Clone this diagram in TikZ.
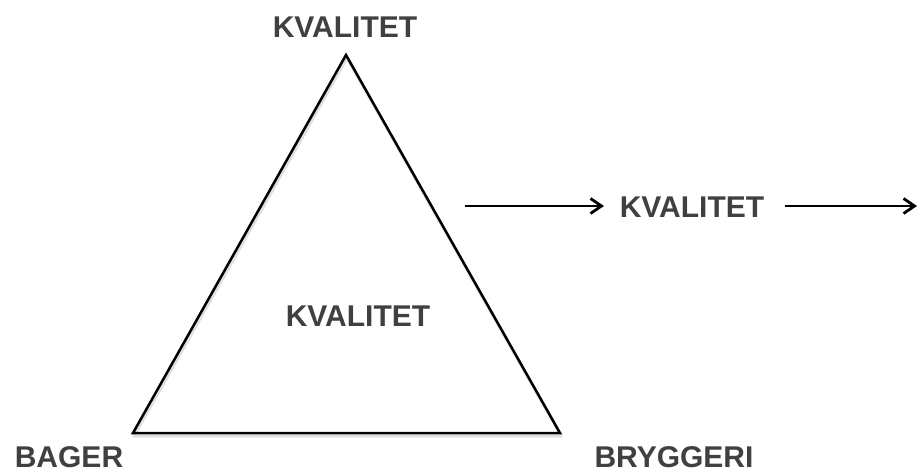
\documentclass[tikz,border=0pt]{standalone}
\usepackage{fontspec}
\setmainfont{Liberation Sans}
\usetikzlibrary{arrows.meta}
\definecolor{txtgray}{HTML}{404040}
\tikzset{
  lbl/.style={font=\fontsize{30}{36}\selectfont\bfseries, text=txtgray, inner sep=0pt, anchor=center},
  edge/.style={line width=2.5pt, line join=miter},
  arr/.style={line width=2.8pt, -{Straight Barb[length=11pt,width=15pt,line width=2.8pt]}},
}
\begin{document}
\begin{tikzpicture}[x=1pt,y=-1pt]
\useasboundingbox (0,0) rectangle (918,472);
\coordinate (apex) at (346,55);
\coordinate (bl) at (133,433);
\coordinate (br) at (560,433);
% soft shadow
\draw[line width=3pt, black!12, line join=round] ([shift={(1,3)}]apex) -- ([shift={(1,3)}]bl) -- ([shift={(1,3)}]br) -- cycle;
\draw[edge] (apex) -- (bl) -- (br) -- cycle;
\node[lbl] (top) at (345,27) {KVALITET};
\node[lbl] (mid) at (358,316) {KVALITET};
\node[lbl] (bager) at (69,457) {BAGER};
\node[lbl] (bryg) at (674,457) {BRYGGERI};
\node[lbl] (right) at (692,207) {KVALITET};
\coordinate (a1s) at (465,206);
\coordinate (a1e) at (604,206);
\coordinate (a2s) at (785,206);
\coordinate (a2e) at (917,206);
\draw[arr] (a1s) -- (a1e);
\draw[arr] (a2s) -- (a2e);
\end{tikzpicture}
\end{document}
